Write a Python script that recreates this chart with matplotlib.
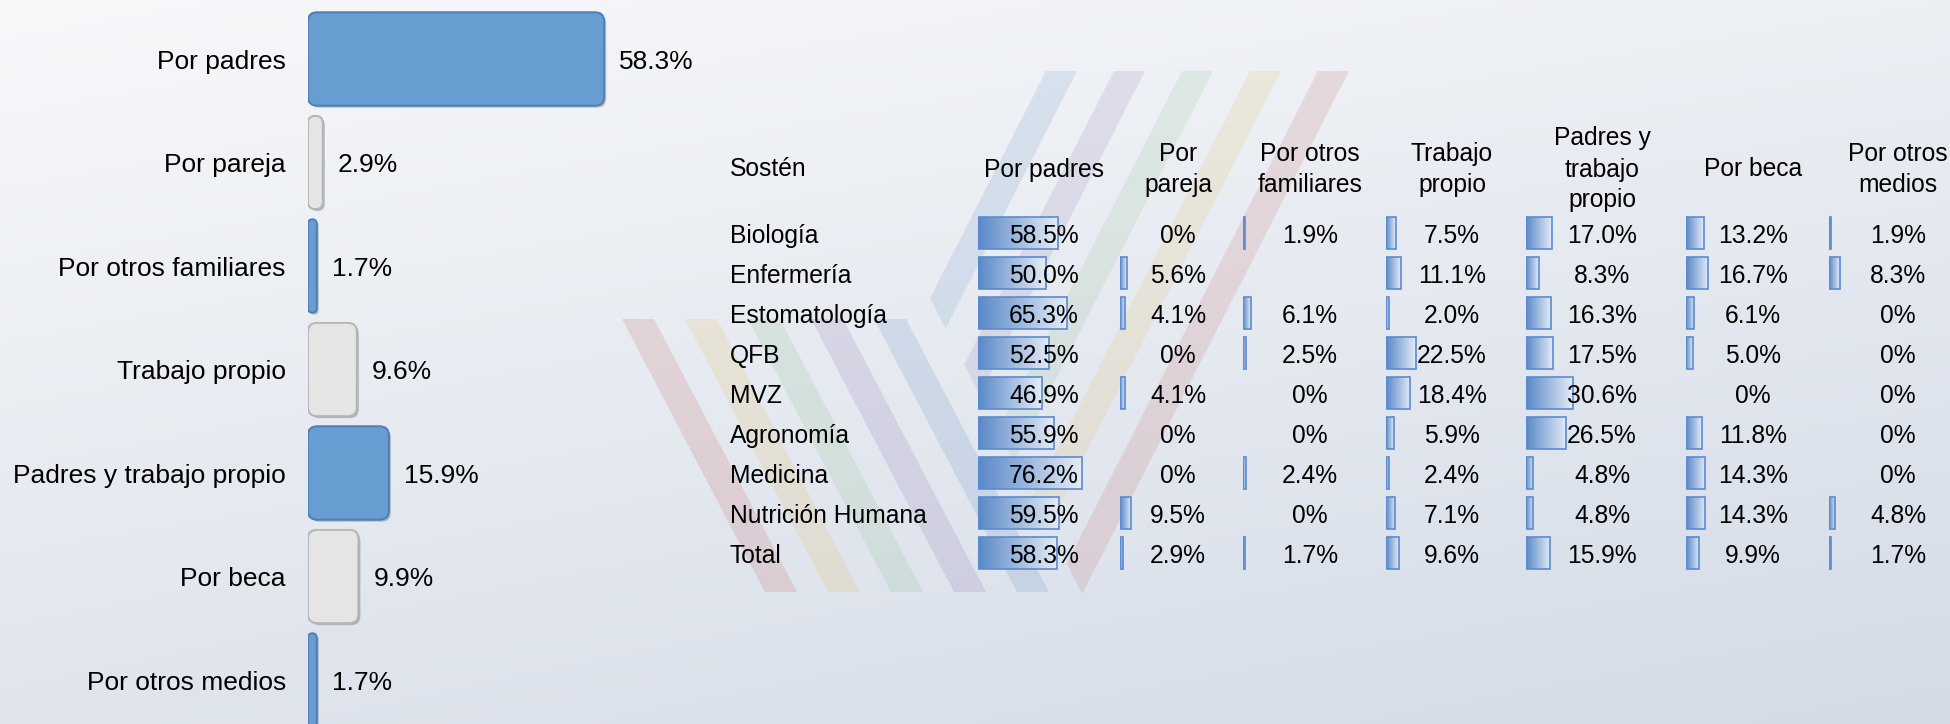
import numpy as np
import matplotlib
matplotlib.use('Agg')
import matplotlib.pyplot as plt
import matplotlib.patheffects as pe
from matplotlib.patches import FancyBboxPatch, Polygon
from matplotlib.colors import LinearSegmentedColormap

plt.rcParams['font.family'] = ['Liberation Sans', 'DejaVu Sans']

# Grafica de barras: sosten economico (total)
sosten = ['Por padres', 'Por pareja', 'Por otros familiares', 'Trabajo propio',
          'Padres y trabajo propio', 'Por beca', 'Por otros medios']
total_pct = [58.3, 2.9, 1.7, 9.6, 15.9, 9.9, 1.7]

# Tabla por carrera
carreras = ['Biología', 'Enfermería', 'Estomatología', 'QFB', 'MVZ', 'Agronomía',
            'Medicina', 'Nutrición Humana', 'Total']
encabezados = ['Por padres', 'Por\npareja', 'Por otros\nfamiliares', 'Trabajo\npropio',
               'Padres y\ntrabajo\npropio', 'Por beca', 'Por otros\nmedios']
por_padres = [58.5, 50.0, 65.3, 52.5, 46.9, 55.9, 76.2, 59.5, 58.3]
por_pareja = [0, 5.6, 4.1, 0, 4.1, 0, 0, 9.5, 2.9]
por_otros_familiares = [1.9, np.nan, 6.1, 2.5, 0, 0, 2.4, 0, 1.7]
trabajo_propio = [7.5, 11.1, 2.0, 22.5, 18.4, 5.9, 2.4, 7.1, 9.6]
padres_y_trabajo = [17.0, 8.3, 16.3, 17.5, 30.6, 26.5, 4.8, 4.8, 15.9]
por_beca = [13.2, 16.7, 6.1, 5.0, 0, 11.8, 14.3, 14.3, 9.9]
por_otros_medios = [1.9, 8.3, 0, 0, 0, 0, 0, 4.8, 1.7]
columnas = [por_padres, por_pareja, por_otros_familiares, trabajo_propio,
            padres_y_trabajo, por_beca, por_otros_medios]

W, H = 1950, 724
fig = plt.figure(figsize=(W / 100, H / 100), dpi=100)


def rect(x, y, w, h):
    # pixel box (origin top-left) -> figure fraction
    return [x / W, 1 - (y + h) / H, w / W, h / H]


def fy(y):
    return 1 - y / H


# fondo con degradado y marca de agua
bg = fig.add_axes([0, 0, 1, 1], zorder=-10)
yy, xx = np.mgrid[0:1:150j, 0:1:300j]
c_tl = np.array([247, 248, 250]) / 255
c_tr = np.array([236, 239, 244]) / 255
c_bl = np.array([224, 229, 237]) / 255
c_br = np.array([211, 219, 231]) / 255
img = ((1 - xx)[..., None] * (1 - yy)[..., None] * c_tl + xx[..., None] * (1 - yy)[..., None] * c_tr
       + (1 - xx)[..., None] * yy[..., None] * c_bl + xx[..., None] * yy[..., None] * c_br)
bg.imshow(img, extent=[0, W, H, 0], aspect='auto', interpolation='bilinear')
colores_v = ['#C0504D', '#E3B448', '#7FB77E', '#8064A2', '#4F81BD']
for k, c in enumerate(colores_v):
    x0 = 622 + 63 * k
    bg.add_patch(Polygon([(x0, 319), (x0 + 32, 319), (x0 + 175, 592), (x0 + 143, 592)],
                         closed=True, facecolor=c, edgecolor='none', alpha=0.16))
for k, c in enumerate(colores_v[::-1]):
    x0 = 1046 + 68 * k
    yl = (x0 - 740.3) / 1.025
    yr = (x0 + 31 - 740.3) / 1.025
    bg.add_patch(Polygon([(x0, 71), (x0 + 31, 71), (x0 + 31 - 0.51 * (yr - 71), yr),
                          (x0 - 0.51 * (yl - 71), yl)],
                         closed=True, facecolor=c, edgecolor='none', alpha=0.14))
bg.set_xlim(0, W)
bg.set_ylim(H, 0)
bg.axis('off')

# grafica de barras horizontal
ax = fig.add_axes(rect(308, 7.25, 508, 724.5))
ax.set_xlim(0, 100)
ax.set_ylim(len(sosten) - 0.5, -0.5)
bars = ax.barh(range(len(sosten)), total_pct, height=0.9, color='none', edgecolor='none')
p0 = ax.transData.transform((0, 0))
p1 = ax.transData.transform((1, 1))
ux, uy = abs(p1[0] - p0[0]), abs(p1[1] - p0[1])
for i, b in enumerate(bars):
    azul = i % 2 == 0
    r_px = min(9, b.get_width() * ux / 2)
    patch = FancyBboxPatch((b.get_x(), b.get_y()), b.get_width(), b.get_height(),
                           boxstyle=f'round,pad=0,rounding_size={r_px / ux}',
                           mutation_aspect=ux / uy,
                           facecolor='#689DD1' if azul else '#E5E5E5',
                           edgecolor='#4F7FB8' if azul else '#B5B5B5', lw=1.3)
    patch.set_path_effects([pe.withSimplePatchShadow(offset=(1.5, -1.5), shadow_rgbFace='#555555',
                                                     alpha=0.35), pe.Normal()])
    ax.add_patch(patch)
    ax.annotate(f'{total_pct[i]:.1f}%', (total_pct[i], i), xytext=(11, 0),
                textcoords='offset points', ha='left', va='center_baseline', fontsize=19)
ax.set_yticks(range(len(sosten)))
ax.set_yticklabels(sosten, fontsize=19)
ax.tick_params(axis='y', length=0, pad=16)
ax.set_xticks([])
for s in ax.spines.values():
    s.set_visible(False)
ax.patch.set_alpha(0)

# tabla con barras de datos
fs = 17.7
col_centro = [1044, 1178, 1310, 1452, 1602, 1753, 1898]
col_barra = [978, 1120, 1243, 1386, 1526, 1686, 1829]
escala = [1.36, 1.2, 1.25, 1.33, 1.52, 1.33, 1.3]  # px por punto porcentual
fila_base = 243.3
fila_paso = 40

fig.text(730 / W, fy(176.5), 'Sostén', ha='left', va='baseline', fontsize=fs)
for j, enc in enumerate(encabezados):
    lineas = enc.split('\n')
    for k, ln in enumerate(lineas):
        fig.text(col_centro[j] / W, fy(176.5 + 31 * (k - (len(lineas) - 1) / 2)), ln,
                 ha='center', va='baseline', fontsize=fs)
for i, c in enumerate(carreras):
    fig.text(730 / W, fy(fila_base + fila_paso * i), c, ha='left', va='baseline', fontsize=fs)

cmap_barra = LinearSegmentedColormap.from_list('barra', ['#5A89C8', '#E4EBF6'])
grad = np.linspace(0, 1, 64)[None, :]
for j, vals in enumerate(columnas):
    v = np.array(vals, dtype=float)
    cax = fig.add_axes(rect(col_barra[j], fila_base - 10.3 - fila_paso / 2, 130, fila_paso * len(carreras)))
    filas = np.arange(len(carreras))[v > 0]
    bb = cax.barh(filas, v[v > 0], height=0.8, facecolor='none', edgecolor='#5B8BD0', lw=1.2, zorder=3)
    for b in bb:
        cax.imshow(grad, cmap=cmap_barra, aspect='auto', zorder=2,
                   extent=[b.get_x(), b.get_x() + b.get_width(), b.get_y() + b.get_height(), b.get_y()])
    cax.set_xlim(0, 130 / escala[j])
    cax.set_ylim(len(carreras) - 0.5, -0.5)
    cax.axis('off')
    for i, val in enumerate(v):
        if np.isnan(val):
            continue
        txt = '0%' if val == 0 else f'{val:.1f}%'
        fig.text(col_centro[j] / W, fy(fila_base + fila_paso * i), txt,
                 ha='center', va='baseline', fontsize=fs, zorder=5)

fig.savefig('out.png', dpi=100)
